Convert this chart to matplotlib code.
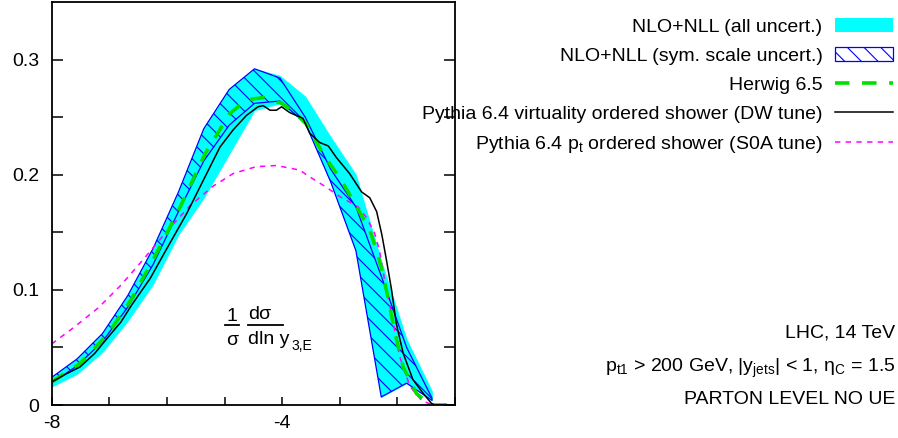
import matplotlib
matplotlib.use("Agg")
import matplotlib.pyplot as plt
from matplotlib.patches import Patch
from matplotlib.lines import Line2D
from matplotlib.ticker import FixedLocator, FixedFormatter

plt.rcParams['font.family'] = ['Liberation Sans', 'DejaVu Sans']
plt.rcParams['mathtext.fontset'] = 'custom'
plt.rcParams['mathtext.rm'] = 'Liberation Sans'
plt.rcParams['mathtext.it'] = 'Liberation Sans'
plt.rcParams['hatch.linewidth'] = 0.8

fs = 14

# NLO+NLL bands (bin positions in ln y3)
band_x = [-8.00, -7.56, -7.12, -6.68, -6.24, -5.80, -5.36, -4.92,
          -4.48, -4.04, -3.60, -3.16, -2.72, -2.28, -1.84, -1.40]
scale_hi = [0.024, 0.040, 0.062, 0.095, 0.136, 0.185, 0.240, 0.274,
            0.292, 0.284, 0.250, 0.205, 0.172, 0.112, 0.050, 0.006]
scale_lo = [0.019, 0.034, 0.055, 0.085, 0.122, 0.168, 0.212, 0.243,
            0.262, 0.264, 0.245, 0.194, 0.134, 0.007, 0.019, 0.004]
all_hi = [0.024, 0.040, 0.062, 0.095, 0.136, 0.185, 0.240, 0.274,
          0.292, 0.286, 0.268, 0.233, 0.200, 0.125, 0.057, 0.012]
all_lo = [0.016, 0.027, 0.046, 0.073, 0.105, 0.148, 0.180, 0.218,
          0.256, 0.262, 0.245, 0.194, 0.134, 0.007, 0.019, 0.004]

# Herwig 6.5
herwig_x = [-8.00, -7.51, -7.02, -6.61, -6.21, -5.77, -5.34, -4.91, -4.62,
            -4.33, -4.01, -3.80, -3.58, -3.29, -2.97, -2.74, -2.48, -2.36,
            -2.25, -2.13, -2.04, -1.90, -1.67, -1.50, -1.40, -1.00]
herwig_y = [0.020, 0.036, 0.062, 0.0925, 0.129, 0.172, 0.218, 0.253, 0.265,
            0.267, 0.262, 0.255, 0.244, 0.218, 0.195, 0.175, 0.152, 0.134,
            0.114, 0.085, 0.062, 0.033, 0.010, 0.003, 0.0, 0.0]

# Pythia 6.4 virtuality ordered (DW)
dw_x = [-8.00, -7.75, -7.51, -7.25, -7.02, -6.80, -6.61, -6.29, -6.00, -5.66,
        -5.37, -5.08, -4.85, -4.62, -4.42, -4.33, -4.21, -4.10, -4.01, -3.87,
        -3.64, -3.52, -3.35, -3.20, -3.06, -2.83, -2.62, -2.48, -2.36, -2.27,
        -2.19, -2.10, -2.02, -1.90, -1.73, -1.55, -1.41, -1.36, -1.00]
dw_y = [0.020, 0.027, 0.033, 0.045, 0.059, 0.072, 0.087, 0.110, 0.136, 0.166,
        0.195, 0.224, 0.239, 0.2515, 0.259, 0.260, 0.256, 0.256, 0.259, 0.254,
        0.249, 0.236, 0.228, 0.225, 0.215, 0.201, 0.185, 0.180, 0.168, 0.148,
        0.126, 0.0997, 0.071, 0.045, 0.022, 0.010, 0.0015, 0.0, 0.0]

# Pythia 6.4 pt ordered (S0A)
s0a_x = [-8.00, -7.60, -7.20, -6.80, -6.40, -6.00, -5.60, -5.20, -4.85,
         -4.45, -4.10, -3.69, -3.58, -3.23, -3.00, -2.68, -2.54, -2.40,
         -2.31, -2.22, -2.07, -1.96, -1.78, -1.58, -1.44, -1.40]
s0a_y = [0.053, 0.068, 0.084, 0.104, 0.127, 0.151, 0.173, 0.190, 0.201,
         0.207, 0.208, 0.204, 0.200, 0.189, 0.181, 0.172, 0.163, 0.150,
         0.134, 0.108, 0.071, 0.042, 0.016, 0.004, 0.001, 0.0]

W, H = 898, 438
fig = plt.figure(figsize=(W / 100, H / 100), dpi=100)
ax = fig.add_axes([51.7 / W, 33 / H, (455 - 51.7) / W, (405 - 2) / H])

cyan = '#00ffff'
blue = '#0000ff'
ax.fill_between(band_x, all_lo, all_hi, facecolor=cyan, edgecolor=cyan, lw=0.5)
ax.fill_between(band_x, scale_lo, scale_hi, facecolor='none', edgecolor=blue,
                hatch='\\\\', lw=0.9)
ax.plot(s0a_x, s0a_y, color='#ff00ff', lw=1.1, dashes=(3.5, 3.5))
ax.plot(herwig_x, herwig_y, color='#00e000', lw=2.6, dashes=(4, 3.5))
ax.plot(dw_x, dw_y, color='black', lw=1.1)

ax.set_xlim(-8, -1)
ax.set_ylim(0, 0.35)
ax.xaxis.set_major_locator(FixedLocator([-8, -7, -6, -5, -4, -3, -2, -1]))
ax.xaxis.set_major_formatter(FixedFormatter(['-8', '', '', '', '-4', '', '', '']))
ax.yaxis.set_major_locator(FixedLocator([0, 0.05, 0.1, 0.15, 0.2, 0.25, 0.3]))
ax.yaxis.set_major_formatter(FixedFormatter(['0', '', '0.1', '', '0.2', '', '0.3']))
ax.tick_params(axis='x', direction='in', length=5.5, width=1.1, pad=7, labelsize=fs)
ax.tick_params(axis='y', direction='in', length=8, width=1.1, pad=9, labelsize=fs,
               right=True)
for s in ax.spines.values():
    s.set_linewidth(1.3)

# observable label drawn as a hand-made fraction
def fx(p):
    return p / W

def fy(p):
    return 1 - p / H

fig.text(fx(232), fy(321), '1', ha='center', va='baseline', fontsize=fs)
fig.text(fx(232), fy(345), 'σ', ha='center', va='baseline', fontsize=fs)
fig.text(fx(248), fy(319), 'dσ', ha='left', va='baseline', fontsize=fs)
fig.text(fx(248), fy(344), 'dln y', ha='left', va='baseline', fontsize=fs)
fig.text(fx(292), fy(350), '3,E', ha='left', va='baseline', fontsize=fs * 0.72)
fig.add_artist(Line2D([fx(225), fx(239)], [fy(325), fy(325)], color='black', lw=1.3))
fig.add_artist(Line2D([fx(248), fx(283)], [fy(325), fy(325)], color='black', lw=1.3))

handles = [
    Patch(facecolor=cyan, edgecolor='none'),
    Patch(facecolor='white', edgecolor=blue, hatch='\\\\', lw=0.9),
    Line2D([], [], color='#00e000', lw=2.6, dashes=(4, 3.5)),
    Line2D([], [], color='black', lw=1.1),
    Line2D([], [], color='#ff00ff', lw=1.1, dashes=(3.5, 3.5)),
]
labels = [
    'NLO+NLL (all uncert.)',
    'NLO+NLL (sym. scale uncert.)',
    'Herwig 6.5',
    'Pythia 6.4 virtuality ordered shower (DW tune)',
    'Pythia 6.4 p$_t$ ordered shower (S0A tune)',
]
fig.legend(handles, labels, loc='upper right', bbox_to_anchor=(fx(893), fy(18)),
           markerfirst=False, frameon=False, fontsize=fs, handlelength=3.0,
           handleheight=0.77, handletextpad=0.62, labelspacing=0.56,
           borderpad=0, borderaxespad=0)

fig.text(fx(895), fy(337), 'LHC, 14 TeV', ha='right', va='baseline', fontsize=fs)
fig.text(fx(895), fy(372), 'p$_{t1}$ > 200 GeV, |y$_{jets}$| < 1, η$_C$ = 1.5',
         ha='right', va='baseline', fontsize=fs)
fig.text(fx(895), fy(404), 'PARTON LEVEL NO UE', ha='right', va='baseline', fontsize=fs)

fig.savefig('out.png', dpi=100)
